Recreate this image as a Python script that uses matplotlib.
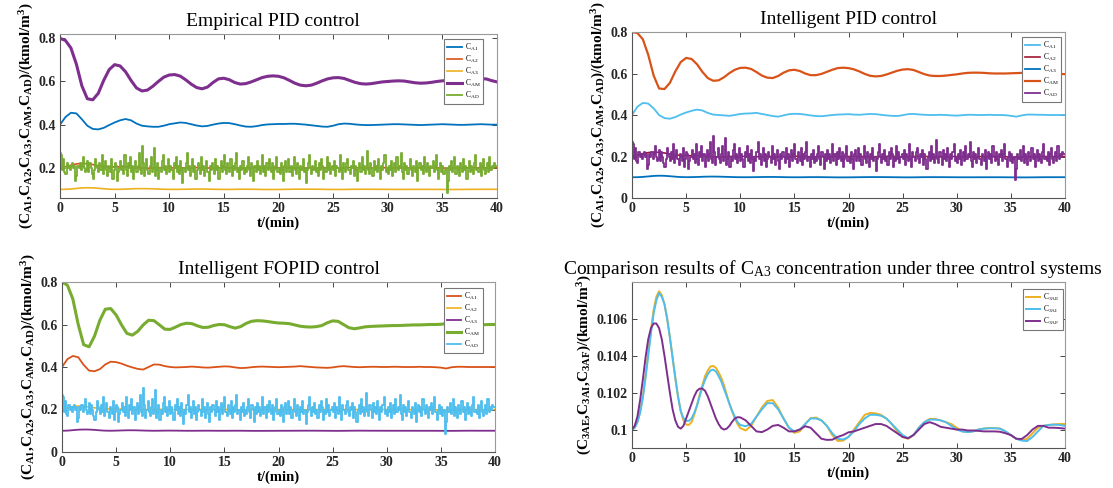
import numpy as np
import matplotlib
matplotlib.use('Agg')
import matplotlib.pyplot as plt

plt.rcParams['font.family'] = ['Liberation Serif', 'DejaVu Serif']
plt.rcParams['mathtext.fontset'] = 'custom'
plt.rcParams['mathtext.rm'] = 'Liberation Serif'
plt.rcParams['mathtext.it'] = 'Liberation Serif:italic'
plt.rcParams['mathtext.bf'] = 'Liberation Serif:bold'

# ---------------- data ----------------
t = np.linspace(0, 40, 81)                                   # 0.5 min steps
t_fine = np.concatenate([np.linspace(0, 10, 41), np.linspace(10.5, 40, 60)])  # CA3 grid
t_noise = np.linspace(0, 40, 401)                            # 0.1 min steps

# CA3 under three systems (panel 4; also CA3 of panels 1-3)
c3ae_a = [0.1000, 0.1001, 0.1004, 0.1010, 0.1018, 0.1029, 0.1042, 0.1054, 0.1065, 0.1072,
          0.1075, 0.1073, 0.1068, 0.1060, 0.1050, 0.1039, 0.1028, 0.1018, 0.1010, 0.1005,
          0.10027, 0.10025, 0.1004, 0.1008, 0.1013, 0.1019, 0.1024, 0.1029, 0.1032, 0.10342,
          0.10345, 0.10335, 0.1031, 0.1028, 0.1024, 0.1019, 0.1014, 0.1010, 0.1006, 0.1003,
          0.10008]
c3ae_b = [0.09995, 0.1002, 0.1007, 0.1012, 0.10155, 0.1016, 0.1012, 0.1006, 0.1001,
          0.09982, 0.0999, 0.1003, 0.10062, 0.10065, 0.1005, 0.1002, 0.0997, 0.09938, 0.0994,
          0.0996, 0.1000, 0.1004, 0.1008, 0.1009, 0.10088, 0.1008, 0.1006, 0.1003, 0.0999,
          0.0996, 0.0995, 0.0997, 0.1001, 0.1004, 0.10058, 0.10058, 0.1005, 0.1004, 0.1003,
          0.1001, 0.0999, 0.09988, 0.0999, 0.1000, 0.10005, 0.10008, 0.10008, 0.10005, 0.0999,
          0.0997, 0.0995, 0.09943, 0.0995, 0.0998, 0.1001, 0.1002, 0.10025, 0.10028, 0.1003,
          0.1003]
c3ai_a = [0.1000, 0.1001, 0.1004, 0.1009, 0.1017, 0.1028, 0.1040, 0.1052, 0.1063, 0.1070,
          0.1074, 0.1072, 0.1068, 0.1060, 0.1050, 0.1039, 0.1028, 0.1018, 0.1010, 0.10062,
          0.10047, 0.10047, 0.1006, 0.1009, 0.1013, 0.1018, 0.1023, 0.1027, 0.1030, 0.1032,
          0.10325, 0.10315, 0.1029, 0.1026, 0.1022, 0.1018, 0.1014, 0.1010, 0.1007, 0.1004,
          0.10025]
c3ai_b = [0.10018, 0.1003, 0.1007, 0.1011, 0.10143, 0.10143, 0.1011, 0.1006, 0.1001,
          0.0999, 0.1000, 0.1003, 0.1006, 0.1006, 0.1005, 0.1002, 0.0998, 0.0995, 0.09946,
          0.0996, 0.0999, 0.1003, 0.1006, 0.1008, 0.1008, 0.10075, 0.1006, 0.1003, 0.1000,
          0.0997, 0.09953, 0.0997, 0.1001, 0.1004, 0.10054, 0.10054, 0.1005, 0.1004, 0.1002,
          0.1000, 0.0999, 0.09986, 0.0999, 0.1000, 0.10005, 0.10007, 0.10007, 0.10005, 0.0999,
          0.0997, 0.0995, 0.0994, 0.09938, 0.0996, 0.0999, 0.1002, 0.10025, 0.10027, 0.10025,
          0.1002]
c3af_a = [0.1000, 0.1002, 0.1007, 0.1016, 0.1027, 0.1039, 0.1049, 0.1055, 0.10575, 0.10575,
          0.1055, 0.1049, 0.1040, 0.1030, 0.1020, 0.1011, 0.1005, 0.10015, 0.10005, 0.1002,
          0.1006, 0.1010, 0.1014, 0.1018, 0.1021, 0.10222, 0.10222, 0.1021, 0.1018, 0.1014,
          0.1010, 0.1006, 0.1003, 0.10008, 0.1000, 0.10005, 0.1002, 0.10042, 0.1006, 0.10067,
          0.10066]
c3af_b = [0.1005, 0.1002, 0.0999, 0.09986, 0.1000, 0.1002, 0.10025, 0.1001, 0.0999,
          0.0999, 0.1000, 0.10018, 0.1001, 0.0998, 0.0995, 0.09944, 0.09945, 0.0996, 0.0997,
          0.09985, 0.0999, 0.1000, 0.1001, 0.1002, 0.1003, 0.1003, 0.1002, 0.1000, 0.0998,
          0.0996, 0.09953, 0.0997, 0.1000, 0.1003, 0.1004, 0.1003, 0.10015, 0.1001, 0.10005,
          0.1000, 0.1000, 0.09995, 0.09995, 0.09993, 0.0999, 0.0999, 0.0999, 0.09988, 0.0998,
          0.0997, 0.0995, 0.09949, 0.0997, 0.1000, 0.1002, 0.1002, 0.1001, 0.1001, 0.10008,
          0.10005]
c3ae = c3ae_a + c3ae_b
c3ai = c3ai_a + c3ai_b
c3af = c3af_a + c3af_b

# panel 1 (empirical PID)
p1_cam = [0.800, 0.790, 0.755, 0.680, 0.580, 0.520, 0.515, 0.545, 0.605, 0.655,
          0.678, 0.672, 0.645, 0.605, 0.570, 0.556, 0.560, 0.578, 0.600, 0.620,
          0.630, 0.632, 0.625, 0.608, 0.588, 0.572, 0.566, 0.574, 0.595, 0.612,
          0.615, 0.608, 0.595, 0.588, 0.590, 0.598, 0.608, 0.618, 0.624, 0.626,
          0.624, 0.617, 0.605, 0.592, 0.583, 0.580, 0.583, 0.592, 0.603, 0.612,
          0.617, 0.618, 0.614, 0.605, 0.596, 0.590, 0.588, 0.590, 0.594, 0.598,
          0.600, 0.602, 0.603, 0.602, 0.598, 0.594, 0.592, 0.593, 0.596, 0.600,
          0.603, 0.604, 0.603, 0.600, 0.598, 0.600, 0.606, 0.612, 0.612, 0.604,
          0.598]
p1_ca1 = [0.400, 0.435, 0.455, 0.452, 0.425, 0.395, 0.380, 0.378, 0.385, 0.398,
          0.410, 0.420, 0.426, 0.420, 0.405, 0.395, 0.392, 0.390, 0.390, 0.395,
          0.402, 0.406, 0.410, 0.408, 0.402, 0.396, 0.392, 0.394, 0.400, 0.405,
          0.408, 0.407, 0.402, 0.396, 0.391, 0.390, 0.393, 0.398, 0.401, 0.402,
          0.403, 0.403, 0.404, 0.404, 0.402, 0.400, 0.397, 0.394, 0.391, 0.390,
          0.395, 0.402, 0.405, 0.404, 0.401, 0.399, 0.398, 0.398, 0.399, 0.400,
          0.401, 0.402, 0.402, 0.401, 0.400, 0.399, 0.398, 0.399, 0.400, 0.401,
          0.402, 0.401, 0.400, 0.399, 0.399, 0.400, 0.401, 0.402, 0.401, 0.400,
          0.400]
p1_ca2 = [0.200, 0.205, 0.212, 0.218, 0.220, 0.219, 0.215, 0.210, 0.206, 0.204,
          0.204, 0.205, 0.205, 0.203, 0.200, 0.199, 0.198, 0.199, 0.201, 0.201,
          0.200, 0.199, 0.199, 0.200, 0.201, 0.201, 0.200, 0.199, 0.199, 0.200,
          0.201, 0.200, 0.199, 0.198, 0.199, 0.200, 0.201, 0.201, 0.200, 0.200,
          0.200, 0.201, 0.201, 0.200, 0.199, 0.199, 0.200, 0.200, 0.201, 0.200,
          0.199, 0.199, 0.200, 0.201, 0.201, 0.200, 0.200, 0.199, 0.200, 0.200,
          0.201, 0.200, 0.200, 0.199, 0.199, 0.200, 0.200, 0.201, 0.200, 0.200,
          0.199, 0.198, 0.199, 0.200, 0.201, 0.200, 0.200, 0.200, 0.200, 0.200,
          0.200]

# panel 2 (intelligent PID)
p2_cam = [0.800, 0.795, 0.765, 0.690, 0.590, 0.528, 0.525, 0.555, 0.610, 0.655,
          0.675, 0.670, 0.645, 0.608, 0.578, 0.565, 0.567, 0.582, 0.602, 0.618,
          0.627, 0.628, 0.622, 0.607, 0.590, 0.580, 0.578, 0.588, 0.604, 0.615,
          0.618, 0.612, 0.600, 0.592, 0.592, 0.598, 0.608, 0.618, 0.626, 0.628,
          0.626, 0.620, 0.610, 0.598, 0.589, 0.586, 0.588, 0.595, 0.604, 0.613,
          0.619, 0.621, 0.617, 0.607, 0.597, 0.590, 0.588, 0.588, 0.590, 0.593,
          0.596, 0.600, 0.603, 0.604, 0.604, 0.603, 0.601, 0.600, 0.600, 0.600,
          0.601, 0.602, 0.603, 0.606, 0.612, 0.618, 0.620, 0.615, 0.605, 0.598,
          0.597]
p2_ca1 = [0.400, 0.440, 0.458, 0.455, 0.432, 0.400, 0.385, 0.382, 0.390, 0.402,
          0.412, 0.420, 0.426, 0.422, 0.410, 0.402, 0.400, 0.398, 0.396, 0.400,
          0.405, 0.407, 0.408, 0.410, 0.405, 0.400, 0.395, 0.392, 0.398, 0.404,
          0.406, 0.405, 0.402, 0.398, 0.395, 0.394, 0.397, 0.400, 0.402, 0.403,
          0.404, 0.402, 0.401, 0.403, 0.405, 0.404, 0.401, 0.398, 0.396, 0.395,
          0.399, 0.404, 0.405, 0.403, 0.401, 0.400, 0.400, 0.401, 0.400, 0.398,
          0.397, 0.399, 0.401, 0.401, 0.400, 0.400, 0.401, 0.400, 0.400, 0.399,
          0.396, 0.392, 0.398, 0.402, 0.402, 0.401, 0.401, 0.400, 0.400, 0.400,
          0.400]
p2_ca2 = [0.200, 0.206, 0.214, 0.219, 0.221, 0.220, 0.217, 0.212, 0.208, 0.205,
          0.204, 0.204, 0.204, 0.203, 0.201, 0.199, 0.198, 0.199, 0.200, 0.201,
          0.201, 0.200, 0.199, 0.199, 0.200, 0.201, 0.200, 0.199, 0.199, 0.200,
          0.201, 0.201, 0.200, 0.199, 0.199, 0.200, 0.201, 0.201, 0.200, 0.200,
          0.200, 0.201, 0.200, 0.200, 0.199, 0.199, 0.200, 0.201, 0.201, 0.200,
          0.199, 0.199, 0.200, 0.201, 0.200, 0.200, 0.200, 0.199, 0.199, 0.200,
          0.200, 0.200, 0.200, 0.199, 0.199, 0.200, 0.200, 0.200, 0.200, 0.199,
          0.198, 0.197, 0.198, 0.199, 0.200, 0.200, 0.200, 0.200, 0.200, 0.200,
          0.200]

# panel 3 (intelligent FOPID)
p3_cam = [0.800, 0.785, 0.720, 0.600, 0.505, 0.495, 0.545, 0.620, 0.672, 0.675,
          0.645, 0.598, 0.558, 0.550, 0.568, 0.598, 0.620, 0.618, 0.598, 0.578,
          0.577, 0.588, 0.600, 0.606, 0.604, 0.594, 0.586, 0.587, 0.595, 0.600,
          0.599, 0.590, 0.583, 0.590, 0.605, 0.615, 0.618, 0.617, 0.614, 0.610,
          0.607, 0.606, 0.604, 0.598, 0.592, 0.589, 0.588, 0.590, 0.595, 0.608,
          0.617, 0.615, 0.600, 0.585, 0.580, 0.584, 0.589, 0.591, 0.592, 0.593,
          0.594, 0.595, 0.595, 0.596, 0.597, 0.598, 0.598, 0.599, 0.600, 0.600,
          0.601, 0.604, 0.612, 0.622, 0.625, 0.615, 0.602, 0.599, 0.599, 0.600,
          0.600]
p3_ca1 = [0.400, 0.437, 0.452, 0.446, 0.410, 0.383, 0.380, 0.390, 0.412, 0.425,
          0.423, 0.416, 0.406, 0.398, 0.391, 0.388, 0.400, 0.412, 0.411, 0.404,
          0.400, 0.398, 0.399, 0.400, 0.402, 0.400, 0.398, 0.397, 0.399, 0.401,
          0.403, 0.402, 0.398, 0.395, 0.396, 0.399, 0.401, 0.402, 0.401, 0.400,
          0.399, 0.400, 0.401, 0.402, 0.404, 0.402, 0.400, 0.398, 0.397, 0.396,
          0.398, 0.402, 0.404, 0.402, 0.400, 0.399, 0.400, 0.401, 0.401, 0.400,
          0.400, 0.401, 0.401, 0.400, 0.400, 0.400, 0.401, 0.400, 0.400, 0.399,
          0.397, 0.393, 0.399, 0.401, 0.401, 0.400, 0.400, 0.400, 0.400, 0.400,
          0.400]
p3_ca2 = [0.200, 0.207, 0.214, 0.216, 0.215, 0.212, 0.208, 0.205, 0.203, 0.202,
          0.202, 0.202, 0.201, 0.200, 0.199, 0.199, 0.200, 0.201, 0.201, 0.200,
          0.200, 0.199, 0.199, 0.200, 0.200, 0.201, 0.200, 0.199, 0.200, 0.200,
          0.200, 0.200, 0.199, 0.199, 0.200, 0.200, 0.201, 0.200, 0.200, 0.200,
          0.200, 0.200, 0.200, 0.200, 0.199, 0.199, 0.200, 0.200, 0.200, 0.200,
          0.199, 0.199, 0.200, 0.200, 0.200, 0.200, 0.200, 0.199, 0.200, 0.200,
          0.200, 0.200, 0.200, 0.199, 0.199, 0.200, 0.200, 0.200, 0.200, 0.199,
          0.198, 0.198, 0.199, 0.200, 0.200, 0.200, 0.200, 0.200, 0.200, 0.200,
          0.200]

# disturbance C_AD (same signal in panels 1-3), 0.1 min steps, one row per minute
cad = [0.27, 0.26, 0.19, 0.24, 0.18, 0.17, 0.22, 0.20, 0.21, 0.19,
       0.21, 0.22, 0.20, 0.21, 0.14, 0.16, 0.21, 0.20, 0.22, 0.19,
       0.21, 0.25, 0.20, 0.18, 0.19, 0.23, 0.18, 0.22, 0.20, 0.17,
       0.15, 0.19, 0.24, 0.21, 0.20, 0.18, 0.22, 0.19, 0.26, 0.17,
       0.20, 0.23, 0.19, 0.16, 0.21, 0.20, 0.18, 0.24, 0.15, 0.19,
       0.22, 0.21, 0.14, 0.18, 0.20, 0.23, 0.19, 0.21, 0.17, 0.26,
       0.19, 0.16, 0.22, 0.20, 0.25, 0.18, 0.21, 0.15, 0.20, 0.23,
       0.18, 0.21, 0.27, 0.19, 0.17, 0.30, 0.22, 0.16, 0.20, 0.24,
       0.19, 0.17, 0.21, 0.25, 0.18, 0.20, 0.29, 0.16, 0.19, 0.22,
       0.15, 0.20, 0.18, 0.23, 0.26, 0.19, 0.21, 0.17, 0.20, 0.24,
       0.18, 0.21, 0.19, 0.15, 0.22, 0.20, 0.25, 0.18, 0.21, 0.17,
       0.23, 0.19, 0.13, 0.20, 0.18, 0.22, 0.27, 0.19, 0.21, 0.16,
       0.20, 0.24, 0.18, 0.21, 0.15, 0.19, 0.22, 0.20, 0.17, 0.25,
       0.19, 0.21, 0.16, 0.20, 0.23, 0.18, 0.14, 0.21, 0.19, 0.22,
       0.20, 0.17, 0.24, 0.19, 0.21, 0.15, 0.20, 0.23, 0.18, 0.21,
       0.26, 0.19, 0.17, 0.22, 0.20, 0.18, 0.24, 0.16, 0.21, 0.19,
       0.22, 0.27, 0.18, 0.20, 0.15, 0.21, 0.19, 0.23, 0.17, 0.20,
       0.18, 0.21, 0.25, 0.19, 0.16, 0.22, 0.20, 0.14, 0.21, 0.18,
       0.23, 0.19, 0.21, 0.17, 0.20, 0.26, 0.18, 0.21, 0.16, 0.22,
       0.19, 0.24, 0.20, 0.18, 0.22, 0.15, 0.19, 0.21, 0.25, 0.18,
       0.20, 0.17, 0.22, 0.19, 0.14, 0.21, 0.23, 0.18, 0.20, 0.24,
       0.18, 0.21, 0.16, 0.20, 0.25, 0.19, 0.17, 0.22, 0.20, 0.15,
       0.21, 0.19, 0.24, 0.18, 0.20, 0.13, 0.19, 0.22, 0.26, 0.20,
       0.17, 0.21, 0.19, 0.23, 0.18, 0.20, 0.16, 0.22, 0.19, 0.24,
       0.21, 0.15, 0.20, 0.18, 0.25, 0.19, 0.22, 0.17, 0.20, 0.21,
       0.19, 0.23, 0.16, 0.21, 0.20, 0.18, 0.26, 0.19, 0.15, 0.22,
       0.20, 0.18, 0.22, 0.24, 0.19, 0.17, 0.21, 0.20, 0.23, 0.16,
       0.21, 0.19, 0.14, 0.20, 0.22, 0.18, 0.25, 0.19, 0.21, 0.17,
       0.20, 0.28, 0.19, 0.17, 0.22, 0.20, 0.16, 0.23, 0.19, 0.21,
       0.18, 0.24, 0.20, 0.15, 0.21, 0.19, 0.22, 0.26, 0.18, 0.20,
       0.17, 0.21, 0.19, 0.23, 0.16, 0.20, 0.22, 0.18, 0.25, 0.19,
       0.21, 0.20, 0.27, 0.18, 0.15, 0.22, 0.19, 0.21, 0.17, 0.20,
       0.24, 0.19, 0.16, 0.21, 0.20, 0.18, 0.23, 0.14, 0.20, 0.22,
       0.19, 0.21, 0.17, 0.25, 0.20, 0.18, 0.22, 0.19, 0.16, 0.21,
       0.20, 0.23, 0.18, 0.21, 0.26, 0.19, 0.15, 0.20, 0.22, 0.18,
       0.21, 0.17, 0.19, 0.20, 0.085, 0.14, 0.21, 0.19, 0.23, 0.18,
       0.20, 0.25, 0.17, 0.21, 0.19, 0.16, 0.22, 0.20, 0.18, 0.24,
       0.19, 0.21, 0.15, 0.20, 0.23, 0.18, 0.21, 0.19, 0.17, 0.22,
       0.26, 0.19, 0.20, 0.18, 0.22, 0.16, 0.21, 0.24, 0.19, 0.17,
       0.20, 0.22, 0.18, 0.25, 0.19, 0.21, 0.20, 0.22, 0.21, 0.21]
cad_steps = cad + [cad[-1]]

xticks = [0, 5, 10, 15, 20, 25, 30, 35, 40]

BLUE = '#0072BD'; ORANGE = '#D95319'; YELLOW = '#EDB120'; PURPLE = '#7E2F8E'
GREEN = '#77AC30'; LBLUE = '#4DBEEE'; DRED = '#A2142F'

W, H = 1113, 488
fig = plt.figure(figsize=(W / 100, H / 100), dpi=100)


def make_ax(x0, x1, ytop, ybot):
    return fig.add_axes([x0 / W, 1 - ybot / H, (x1 - x0) / W, (ybot - ytop) / H])


def style(ax, ylim, yticks, yticklabels):
    ax.set_xlim(0, 40)
    ax.set_ylim(*ylim)
    ax.set_xticks(xticks)
    ax.set_xticklabels([str(v) for v in xticks], fontweight='bold')
    ax.set_yticks(yticks)
    ax.set_yticklabels(yticklabels, fontweight='bold')
    ax.tick_params(direction='in', top=True, right=True, length=3.5, width=0.6,
                   labelsize=10, pad=3, colors='#262626')
    for s in ['left', 'bottom']:
        ax.spines[s].set_color('#555555')
        ax.spines[s].set_linewidth(0.8)
    for s in ['top', 'right']:
        ax.spines[s].set_color('#999999')
        ax.spines[s].set_linewidth(0.8)
    ax.set_xlabel('t/(min)', fontsize=10.5, fontweight='bold', labelpad=1)


def legend(ax, anchor):
    lg = ax.legend(loc='upper right', bbox_to_anchor=anchor, borderaxespad=0,
                   fontsize=5.5, handlelength=1.9, handletextpad=0.4,
                   labelspacing=0.12, borderpad=0.35, fancybox=False,
                   framealpha=1, edgecolor='#777777')
    lg.get_frame().set_linewidth(0.8)


ylab = r'$\mathbf{(C_{A1}{,}C_{A2}{,}C_{A3}{,}C_{AM}{,}C_{AD})/(kmol/m^3)}$'
labs = [r'$\mathrm{C_{A1}}$', r'$\mathrm{C_{A2}}$', r'$\mathrm{C_{A3}}$',
        r'$\mathrm{C_{AM}}$', r'$\mathrm{C_{AD}}$']

# ---- panel 1 ----
ax1 = make_ax(60, 497, 34, 198)
ax1.plot(t, p1_ca1, color=BLUE, lw=1.3, label=labs[0])
ax1.plot(t, p1_ca2, color=ORANGE, lw=1.2, label=labs[1])
ax1.plot(t_fine, c3ae, color=YELLOW, lw=1.2, label=labs[2])
ax1.plot(t, p1_cam, color=PURPLE, lw=2.2, label=labs[3])
ax1.plot(t_noise, cad_steps, color=GREEN, lw=1.3, drawstyle='steps-post', label=labs[4])
style(ax1, (0.06, 0.82), [0.2, 0.4, 0.6, 0.8], ['0.2', '0.4', '0.6', '0.8'])
ax1.set_title('Empirical PID control', fontsize=14, pad=6, x=0.487)
ax1.set_ylabel(ylab, fontsize=11, labelpad=2)
legend(ax1, (0.968, 0.97))

# ---- panel 2 ----
ax2 = make_ax(632, 1065, 32, 198)
ax2.plot(t, p2_ca1, color=LBLUE, lw=1.3, label=labs[0])
ax2.plot(t, p2_ca2, color=DRED, lw=1.2, label=labs[1])
ax2.plot(t_fine, c3ai, color=BLUE, lw=1.3, label=labs[2])
ax2.plot(t, p2_cam, color=ORANGE, lw=1.6, label=labs[3])
ax2.plot(t_noise, cad_steps, color=PURPLE, lw=1.3, drawstyle='steps-post', label=labs[4])
style(ax2, (0, 0.8), [0, 0.2, 0.4, 0.6, 0.8], ['0', '0.2', '0.4', '0.6', '0.8'])
ax2.set_title('Intelligent PID control', fontsize=14, pad=6)
ax2.set_ylabel(ylab, fontsize=11, labelpad=2)
legend(ax2, (0.991, 0.97))

# ---- panel 3 ----
ax3 = make_ax(62, 495, 282, 452)
ax3.plot(t, p3_ca1, color=ORANGE, lw=1.3, label=labs[0])
ax3.plot(t, p3_ca2, color=YELLOW, lw=1.2, label=labs[1])
ax3.plot(t_fine, c3af, color=PURPLE, lw=1.3, label=labs[2])
ax3.plot(t, p3_cam, color=GREEN, lw=2.2, label=labs[3])
ax3.plot(t_noise, cad_steps, color=LBLUE, lw=1.3, drawstyle='steps-post', label=labs[4])
style(ax3, (0, 0.8), [0, 0.2, 0.4, 0.6, 0.8], ['0', '0.2', '0.4', '0.6', '0.8'])
ax3.set_title('Intelligent FOPID control', fontsize=14, pad=6)
ax3.set_ylabel(ylab, fontsize=11, labelpad=2)
legend(ax3, (0.972, 0.965))

# ---- panel 4 ----
ax4 = make_ax(632, 1065, 282, 448)
ax4.plot(t_fine, c3ae, color=YELLOW, lw=1.4, label=r'$\mathrm{C_{3AE}}$')
ax4.plot(t_fine, c3ai, color=LBLUE, lw=1.4, label=r'$\mathrm{C_{3AI}}$')
ax4.plot(t_fine, c3af, color=PURPLE, lw=1.4, label=r'$\mathrm{C_{3AF}}$')
style(ax4, (0.099, 0.108), [0.1, 0.102, 0.104, 0.106], ['0.1', '0.102', '0.104', '0.106'])
ax4.set_title(r'Comparison results of $\mathrm{C_{A3}}$ concentration under three control systems',
              fontsize=14, pad=6, x=0.464)
ax4.set_ylabel(r'$\mathbf{(C_{3AE}{,}C_{3AI}{,}C_{3AF})/(kmol/m^3)}$', fontsize=11, labelpad=2)
legend(ax4, (0.995, 0.958))

fig.savefig('out.png', dpi=100)
